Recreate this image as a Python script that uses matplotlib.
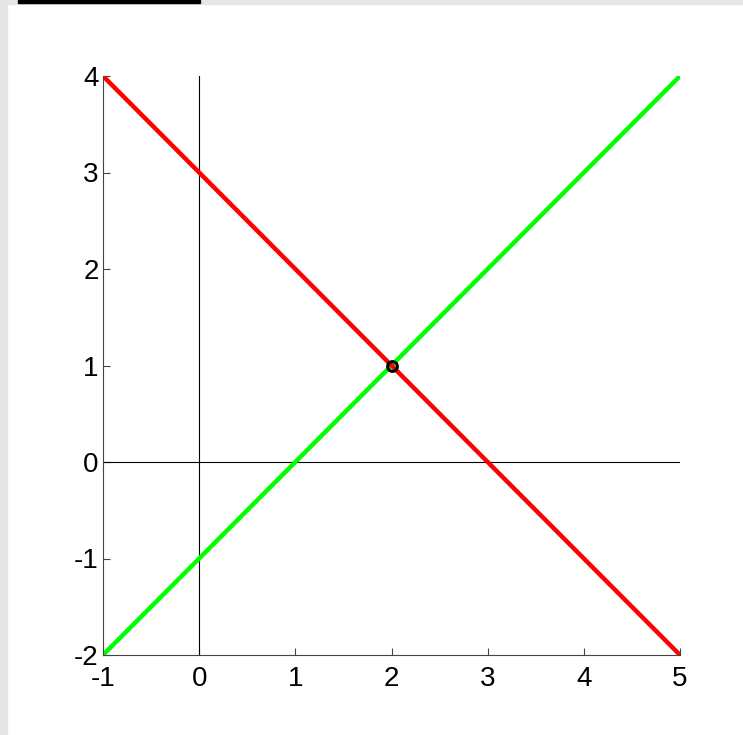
import matplotlib.pyplot as plt
from matplotlib.patches import Rectangle

x_vals = [-1, 5]
green_y = [-2, 4]
red_y = [4, -2]
meet_x = [2]
meet_y = [1]
x_ticks = [-1, 0, 1, 2, 3, 4, 5]
y_ticks = [-2, -1, 0, 1, 2, 3, 4]

plt.rcParams['font.family'] = ['Liberation Sans', 'DejaVu Sans']
plt.rcParams['axes.unicode_minus'] = False

fig = plt.figure(figsize=(7.43, 7.35), dpi=100)
fig.patch.set_facecolor('white')
# grey window frame and black title strip
fig.patches.append(Rectangle((0, 0), 7 / 743, 1, transform=fig.transFigure,
                             color='#e6e6e6', zorder=-1))
fig.patches.append(Rectangle((0, 1 - 4 / 735), 1, 4 / 735, transform=fig.transFigure,
                             color='#e6e6e6', zorder=-1))
fig.patches.append(Rectangle((18 / 743, 1 - 3 / 735), 182 / 743, 3 / 735,
                             transform=fig.transFigure, color='black', zorder=0))

ax = fig.add_axes([103 / 743, 1 - 655 / 735, 577 / 743, 579 / 735])

ax.plot([0, 0], [y_ticks[0], y_ticks[-1]], color='black', lw=0.8)
ax.plot([x_ticks[0], x_ticks[-1]], [0, 0], color='black', lw=0.8)
ax.plot(x_vals, green_y, color='#00ff00', lw=3.2, solid_capstyle='round')
ax.plot(x_vals, red_y, color='#ff0000', lw=3.2, solid_capstyle='round')
ax.plot(meet_x, meet_y, 'o', ms=7, mfc='none', mec='black', mew=2.2)

ax.set_xlim(-1, 5)
ax.set_ylim(-2, 4)
ax.set_xticks(x_ticks)
ax.set_yticks(y_ticks)
ax.spines['top'].set_visible(False)
ax.spines['right'].set_visible(False)
for s in ('left', 'bottom'):
    ax.spines[s].set_color('#444444')
    ax.spines[s].set_linewidth(0.8)
ax.tick_params(direction='in', length=5, width=0.8, color='#444444',
               labelsize=20)
ax.tick_params(axis='x', pad=8)
ax.tick_params(axis='y', pad=3)

fig.savefig('out.png', dpi=100)
